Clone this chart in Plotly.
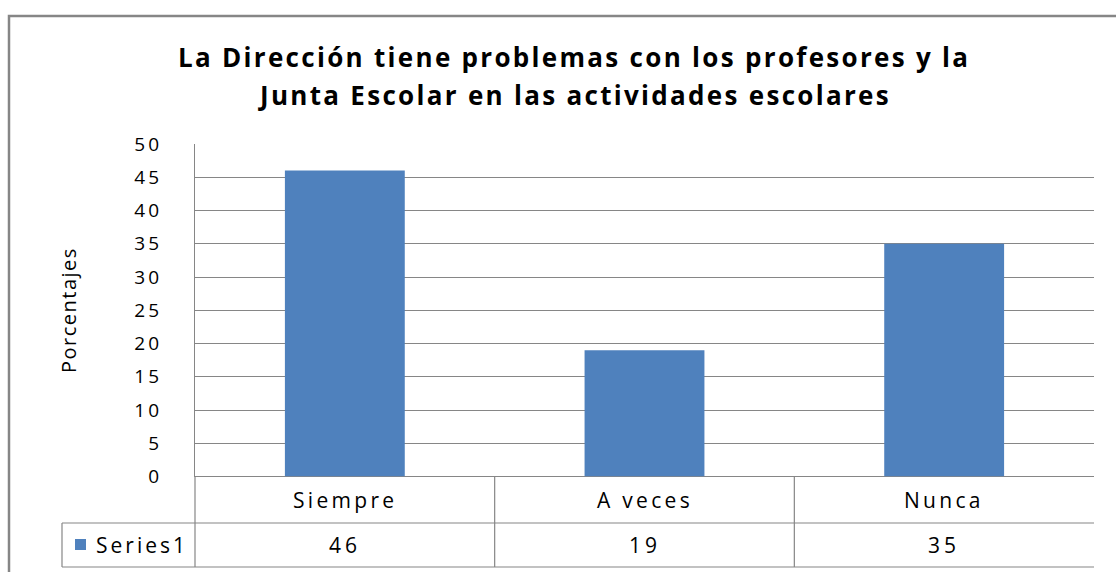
import plotly.graph_objects as go

# ---- data ----
categories = ["Siempre", "A veces", "Nunca"]
values = [46, 19, 35]
series_name = "Series1"
title_lines = ["La Dirección tiene problemas con los profesores y la",
               "Junta Escolar en las actividades escolares"]
y_title = "Porcentajes"
y_ticks = [0, 5, 10, 15, 20, 25, 30, 35, 40, 45, 50]

W, H = 1116, 572
BAR = "#4F81BD"
LINE = "#868686"
FONT = "Open Sans, Noto Sans, sans-serif"


def px(x):
    return x / W


def py(y):
    return 1 - y / H


def sp(text, ls):
    return f'<span style="letter-spacing:{ls}px">{text}</span>'


fig = go.Figure()
fig.add_trace(go.Bar(x=categories, y=values, marker=dict(color=BAR, line=dict(width=0)),
                     width=0.4, name=series_name, showlegend=False, hoverinfo="skip"))

fig.update_layout(
    width=W, height=H,
    autosize=False,
    showlegend=False,
    margin=dict(l=0, r=0, t=0, b=0, pad=0, autoexpand=False),
    paper_bgcolor="white", plot_bgcolor="white",
    font=dict(family=FONT, color="#000000"),
    xaxis=dict(domain=[px(195), px(1094)], showticklabels=False, showgrid=False,
               zeroline=False, showline=False, ticks="", range=[-0.5, 2.5],
               automargin=False),
    yaxis=dict(domain=[py(476.5), py(144)], range=[0, 50], tickvals=y_ticks,
               ticktext=[sp(str(v), 3) for v in y_ticks],
               tickfont=dict(size=19, family=FONT, color="#000"),
               showgrid=True, gridcolor=LINE, gridwidth=1.2,
               zeroline=True, zerolinecolor=LINE, zerolinewidth=1.2,
               showline=True, linecolor=LINE, linewidth=1.2,
               ticks="", ticklabelstandoff=28, automargin=False),
)

shapes = []
# outer frame
shapes.append(dict(type="rect", xref="paper", yref="paper", x0=px(9), x1=px(1140),
                   y0=py(600), y1=py(16), line=dict(color=LINE, width=2.5)))
# table horizontal lines
for yy in (523, 567):
    shapes.append(dict(type="line", xref="paper", yref="paper", x0=px(62), x1=px(1094),
                       y0=py(yy), y1=py(yy), line=dict(color=LINE, width=1.2)))
# table vertical lines
shapes.append(dict(type="line", xref="paper", yref="paper", x0=px(62), x1=px(62),
                   y0=py(523), y1=py(567), line=dict(color=LINE, width=1.2)))
shapes.append(dict(type="line", xref="paper", yref="paper", x0=px(195), x1=px(195),
                   y0=py(476), y1=py(567), line=dict(color=LINE, width=1.2)))
for i in range(len(categories) - 1):
    shapes.append(dict(type="line", xref="x", yref="paper", x0=i + 0.5, x1=i + 0.5,
                       y0=py(476), y1=py(567), line=dict(color=LINE, width=1.2)))
# legend key
shapes.append(dict(type="rect", xref="paper", yref="paper", x0=px(75), x1=px(86),
                   y0=py(550), y1=py(539), fillcolor=BAR, line=dict(width=0)))

annotations = []
# title
for line, yy in zip(title_lines, (57, 95)):
    annotations.append(dict(text="<b>" + sp(line, 2.3) + "</b>", xref="paper", yref="paper",
                            x=px(574), y=py(yy), showarrow=False,
                            xanchor="center", yanchor="middle",
                            font=dict(size=26, family=FONT, color="#000")))
# y title
annotations.append(dict(text=sp(y_title, 1.5), xref="paper", yref="paper", x=px(68), y=py(310),
                        showarrow=False, textangle=-90, xanchor="center", yanchor="middle",
                        font=dict(size=20, family=FONT, color="#000")))
# table texts
for i, (c, v) in enumerate(zip(categories, values)):
    annotations.append(dict(text=sp(c, 3.3), xref="x", yref="paper", x=i, y=py(500),
                            showarrow=False, xanchor="center", yanchor="middle",
                            font=dict(size=21, family=FONT, color="#000")))
    annotations.append(dict(text=sp(str(v), 4), xref="x", yref="paper", x=i, y=py(545),
                            showarrow=False, xanchor="center", yanchor="middle",
                            font=dict(size=21, family=FONT, color="#000")))
annotations.append(dict(text=sp(series_name, 3), xref="paper", yref="paper", x=px(94), y=py(545),
                        showarrow=False, xanchor="left", yanchor="middle",
                        font=dict(size=21, family=FONT, color="#000")))

fig.update_layout(shapes=shapes, annotations=annotations)
fig.write_html("out.html", config={"displayModeBar": False},
               post_script="document.body.style.margin='0';document.body.style.overflow='hidden';")
